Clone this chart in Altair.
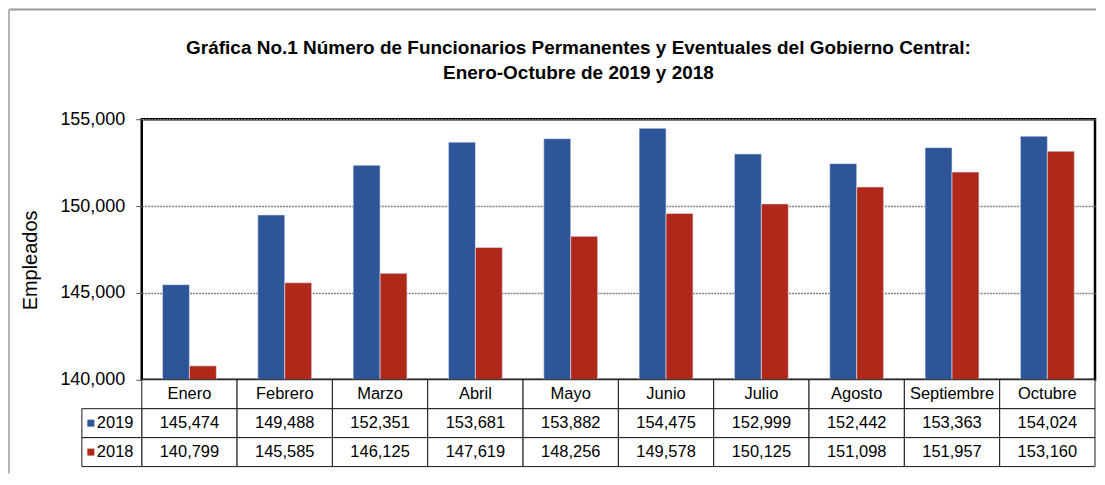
import altair as alt
import pandas as pd

months = ["Enero", "Febrero", "Marzo", "Abril", "Mayo", "Junio", "Julio",
          "Agosto", "Septiembre", "Octubre"]
series = ["2019", "2018"]
v2019 = [145474, 149488, 152351, 153681, 153882, 154475, 152999, 152442, 153363, 154024]
v2018 = [140799, 145585, 146125, 147619, 148256, 149578, 150125, 151098, 151957, 153160]
colors = ["#2E5597", "#B0281A"]
y_ticks = [140000, 145000, 150000, 155000]
title_lines = ["Gráfica No.1 Número de Funcionarios  Permanentes y Eventuales del Gobierno Central:",
               "Enero-Octubre de  2019 y 2018"]
row_order = ["hdr", "2019", "2018"]

FONT = "Liberation Sans"
W, H = 955, 261
TABLE_RANGE = [H, H + 87]

# bar data
bar_rows = []
for s, vals in zip(series, [v2019, v2018]):
    for m, v in zip(months, vals):
        bar_rows.append({"month": m, "series": s, "value": v})
bars_df = pd.DataFrame(bar_rows)

# table data
tab_rows = []
for m in months:
    tab_rows.append({"month": m, "row": "hdr", "label": m})
for s, vals in zip(series, [v2019, v2018]):
    for m, v in zip(months, vals):
        tab_rows.append({"month": m, "row": s, "label": f"{v:,}"})
tab_df = pd.DataFrame(tab_rows)
leg_df = pd.DataFrame({"row": series, "series": series})

color_scale = alt.Scale(domain=series, range=colors)
x_tab = alt.X("month:N", sort=months, axis=None,
              scale=alt.Scale(paddingInner=0, paddingOuter=0))
y_tab = alt.Y("row:N", sort=row_order, axis=None,
              scale=alt.Scale(domain=row_order, range=TABLE_RANGE, paddingInner=0, paddingOuter=0))

frame_top = alt.Chart(pd.DataFrame({"k": [0]})).mark_rule(color="#9a9a9a", strokeWidth=2).encode(
    x=alt.value(-133), x2=alt.value(956), y=alt.value(-110))
frame_left = alt.Chart(pd.DataFrame({"k": [0]})).mark_rule(color="#b4b4b4", strokeWidth=2).encode(
    x=alt.value(-133), y=alt.value(-110), y2=alt.value(H + 94))

bars = alt.Chart(bars_df).mark_bar(stroke="#dfe6f0", strokeWidth=0.6).encode(
    x=alt.X("month:N", sort=months, axis=None,
            scale=alt.Scale(paddingInner=0.435, paddingOuter=0.2175)),
    xOffset=alt.XOffset("series:N", sort=series, scale=alt.Scale(paddingInner=0, paddingOuter=0)),
    y=alt.Y("value:Q",
            scale=alt.Scale(domain=[140000, 155000], zero=False, nice=False, clamp=True),
            axis=alt.Axis(values=y_ticks, format=",.0f", title="Empleados",
                          labelFontSize=18, labelFont=FONT, labelColor="black",
                          labelPadding=11, tickSize=6, tickColor="#555", domain=False,
                          titleFont=FONT, titleFontSize=20, titleFontWeight="normal",
                          titleColor="black", titlePadding=19, titleY=141,
                          grid=True, gridColor="#808080", gridDash=[2, 1], gridWidth=1.5)),
    y2=alt.datum(140000),
    color=alt.Color("series:N", scale=color_scale, legend=None),
)

cells = alt.Chart(tab_df).mark_rect(fill="white", stroke="#1a1a1a", strokeWidth=1).encode(
    x=x_tab, y=y_tab)
cell_text = alt.Chart(tab_df).mark_text(font=FONT, fontSize=16.5, color="black").encode(
    x=x_tab, y=y_tab, text="label:N")

lab_cells = alt.Chart(leg_df).mark_rect(fill="white", stroke="#1a1a1a", strokeWidth=1).encode(
    x=alt.value(-60), x2=alt.value(0), y=y_tab)
lab_sq = alt.Chart(leg_df).mark_square(size=49, opacity=1).encode(
    x=alt.value(-51), y=y_tab, color=alt.Color("series:N", scale=color_scale, legend=None))
lab_text = alt.Chart(leg_df).mark_text(font=FONT, fontSize=16.5, color="black", align="left").encode(
    x=alt.value(-45), y=y_tab, text="series:N")

chart = alt.layer(frame_top, frame_left, bars, cells, cell_text, lab_cells, lab_sq, lab_text).resolve_scale(
    x="independent", y="independent", color="shared"
).properties(
    width=W, height=H, background="white", padding=0,
    title=alt.TitleParams(text=title_lines, font=FONT, fontSize=19, fontWeight="bold",
                          color="black", anchor="middle", frame="group", dx=-40,
                          offset=-75, lineHeight=25),
).configure_view(stroke="black", strokeWidth=2.5)

chart.save("out.html", embed_options={"renderer": "svg", "actions": False})
